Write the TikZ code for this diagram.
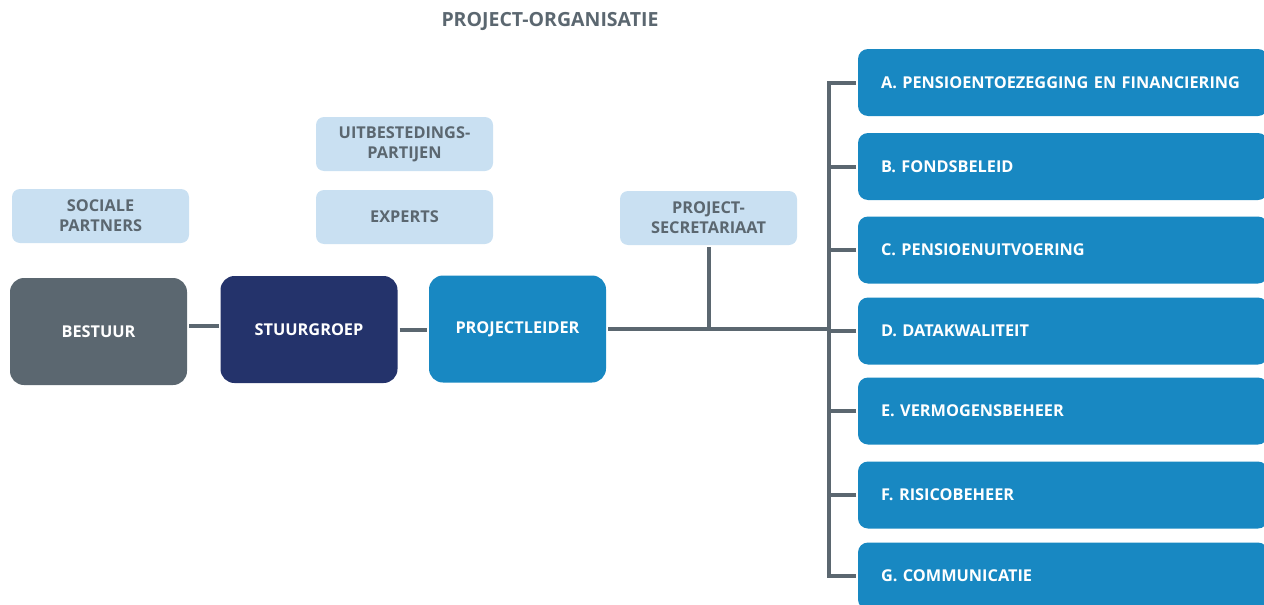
\documentclass[tikz,border=0pt]{standalone}
\usepackage{fontspec}
\setmainfont{Open Sans}
\usetikzlibrary{calc}

\definecolor{slate}{HTML}{5B6770}
\definecolor{navy}{HTML}{24336B}
\definecolor{midblue}{HTML}{1888C2}
\definecolor{paleblue}{HTML}{C9E0F2}

\begin{document}
\begin{tikzpicture}[x=1pt, y=-1pt, line width=4pt, slate,
  every node/.style={font=\bfseries\fontsize{16.3}{20}\selectfont, align=center, inner sep=0pt},
  side/.style={fill=paleblue, rounded corners=8pt, minimum width=177pt, minimum height=54pt, text=slate},
  chief/.style={rounded corners=14pt, minimum width=177pt, minimum height=107pt, text=white},
  task/.style={fill=midblue, rounded corners=10pt, minimum width=410pt, minimum height=67pt,
    text=white, text width=364pt, align=left}]
  \useasboundingbox (0,0) rectangle (1264,605);

  \node[font=\bfseries\fontsize{19.5}{22}\selectfont, text=slate] (title) at (550,21) {PROJECT-ORGANISATIE};

  % left column
  \node[side] (soc) at (100.5,216) {SOCIALE\\PARTNERS};
  \node[side] (uit) at (404.5,144) {UITBESTEDINGS-\\PARTIJEN};
  \node[side] (exp) at (404.5,217) {EXPERTS};
  \node[side] (sec) at (708.5,218) {PROJECT-\\SECRETARIAAT};

  \node[chief, fill=slate] (bes) at (98.5,331.5) {BESTUUR};
  \node[chief, fill=navy] (stu) at (309,329.5) {STUURGROEP};
  \node[chief, fill=midblue] (pl) at (517.5,329) {PROJECTLEIDER};

  % work packages
  \node[task] (a) at (1063,82.5) {A. PENSIOENTOEZEGGING EN FINANCIERING};
  \node[task] (b) at (1063,166.5) {B. FONDSBELEID};
  \node[task] (c) at (1063,250) {C. PENSIOENUITVOERING};
  \node[task] (d) at (1063,331) {D. DATAKWALITEIT};
  \node[task] (e) at (1063,411) {E. VERMOGENSBEHEER};
  \node[task] (f) at (1063,495) {F. RISICOBEHEER};
  \node[task] (g) at (1063,576) {G. COMMUNICATIE};

  \coordinate (bus) at (829,0);

  % connectors
  \draw (bes.east |- 0,326) -- (stu.west |- 0,326);
  \draw (stu.east |- 0,330) -- (pl.west |- 0,330);
  \draw (pl.east) -- (pl.east -| bus);
  \draw (sec.south) -- (sec.south |- pl.east);
  \draw (a.west) -- (a.west -| bus) -- (g.west -| bus) -- (g.west);
  \foreach \t in {b,c,d,e,f}
    \draw (\t.west) -- (\t.west -| bus);
\end{tikzpicture}
\end{document}
